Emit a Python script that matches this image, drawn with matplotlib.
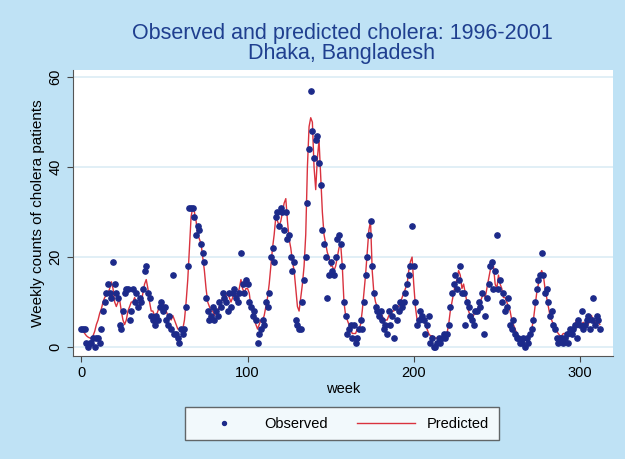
import numpy as np
import matplotlib.pyplot as plt

# weekly counts
observed = [
    4, 4, 4, 1, 0, 1, 1, 2, 0, 2,
    2, 1, 4, 8, 10, 12, 14, 12, 11, 19,
    14, 12, 11, 5, 4, 8, 12, 13, 13, 6,
    8, 13, 10, 12, 9, 11, 10, 13, 17, 18,
    12, 11, 7, 6, 5, 7, 6, 9, 10, 8,
    9, 6, 5, 7, 4, 16, 3, 3, 2, 1,
    4, 3, 4, 9, 18, 31, 31, 31, 29, 25,
    27, 26, 23, 21, 19, 11, 8, 6, 7, 9,
    6, 8, 7, 10, 9, 12, 11, 10, 8, 12,
    9, 12, 13, 11, 10, 12, 21, 14, 12, 15,
    14, 10, 9, 7, 8, 6, 1, 3, 4, 6,
    5, 10, 9, 12, 20, 22, 19, 29, 30, 27,
    31, 30, 26, 30, 24, 25, 20, 17, 19, 6,
    5, 4, 4, 10, 15, 20, 32, 44, 57, 48,
    42, 46, 47, 41, 36, 26, 23, 20, 11, 16,
    19, 17, 16, 20, 24, 25, 23, 18, 10, 7,
    3, 4, 5, 2, 5, 1, 2, 4, 6, 4,
    10, 16, 20, 25, 28, 18, 12, 9, 8, 7,
    8, 6, 4, 5, 3, 8, 5, 7, 2, 9,
    6, 8, 10, 9, 10, 12, 14, 16, 18, 27,
    18, 10, 5, 6, 8, 7, 6, 3, 5, 7,
    1, 2, 0, 0, 1, 2, 1, 2, 3, 2,
    3, 5, 9, 12, 14, 16, 13, 15, 18, 12,
    12, 5, 10, 9, 7, 6, 5, 8, 8, 10,
    9, 12, 3, 7, 11, 14, 18, 19, 13, 17,
    25, 13, 15, 10, 12, 8, 9, 11, 5, 4,
    6, 3, 2, 2, 1, 1, 2, 0, 2, 1,
    3, 4, 6, 10, 13, 15, 16, 21, 16, 12,
    13, 10, 7, 8, 5, 4, 2, 1, 2, 2,
    1, 2, 3, 1, 4, 3, 4, 5, 2, 6,
    5, 8, 4, 5, 6, 7, 4, 6, 11, 5, 7, 6, 4,
]

predicted = [
    4, 3.5, 3, 2.5, 2.2, 2, 2, 2.5, 3.5, 5,
    6, 7.5, 8.5, 10, 11, 11.5, 12, 13, 14.5, 13,
    10, 9, 10, 10.5, 8, 6, 5, 6, 8, 9,
    10, 10, 11, 10, 9, 9, 10, 12, 14, 15,
    13, 10, 8, 8, 7, 7, 8, 9, 10, 10,
    9, 8, 7, 7, 6, 7, 6, 5, 4, 4,
    3.5, 4, 6, 10, 15, 22, 29, 31, 30, 28,
    25, 24, 23, 20, 17, 13, 10, 9, 8, 8,
    7, 8, 8, 9, 10, 11, 10, 11, 12, 11,
    10, 11, 12, 11, 12, 13, 15, 13, 12, 13,
    13, 12, 9, 8, 6, 5, 4, 5, 6, 6,
    7, 9, 11, 14, 18, 22, 25, 29, 28, 27,
    28, 30, 32, 33, 28, 24, 22, 19, 17, 13,
    9, 8, 11, 14, 18, 25, 40, 49, 51, 50,
    40, 35, 42, 46, 38, 30, 25, 23, 21, 20,
    18, 18, 17, 18, 20, 22, 23, 18, 10, 7,
    6, 5, 4, 3, 3, 3, 4, 4, 5, 8,
    12, 16, 21, 26, 28, 17, 12, 10, 9, 8,
    7, 7, 6, 6, 6, 7, 7, 8, 8, 9,
    9, 9, 10, 11, 12, 13, 14, 17, 19, 20,
    14, 9, 6, 6, 7, 7, 6, 5, 4, 3,
    2.5, 2.5, 2, 2, 2, 2, 2, 2, 2.5, 3,
    3, 5, 8, 10, 12, 14, 15, 17, 16, 13,
    14, 12, 10, 8, 7, 6, 7, 8, 8, 9,
    10, 11, 12, 11, 13, 15, 17, 18, 18, 14,
    13, 16, 14, 13, 11, 11, 10, 9, 8, 6,
    5, 4, 3, 2.5, 2, 2, 1.5, 1.5, 2, 2.5,
    3, 4, 6, 9, 12, 14, 16, 17, 16, 13,
    11, 9, 7, 6, 5, 4, 3.5, 3, 2.5, 2.5,
    3, 3, 3, 3.5, 4, 4, 4.5, 5, 6, 5.5,
    4.5, 5, 5.5, 5, 6, 5, 6, 7, 6, 5, 6, 5.5, 5,
]

weeks = np.arange(len(observed))

bg = '#bfe2f5'
title_col = '#1f3f8f'

plt.rcParams['font.family'] = ['Liberation Sans', 'DejaVu Sans']

fig = plt.figure(figsize=(6.25, 4.59), dpi=100, facecolor=bg)
ax = fig.add_axes([0.117, 0.2244, 0.864, 0.623])
ax.set_facecolor('white')

for yv in [0, 20, 40, 60]:
    ax.axhline(yv, color='#dcecf5', lw=1.2, zorder=0)

ax.plot(weeks, predicted, color='#d9323e', lw=1.0, zorder=2, label='Predicted')
ax.plot(weeks, observed, 'o', color='#1c2a8a', ms=3.8, zorder=3, label='Observed')

ax.set_xlim(-5, 320)
ax.set_ylim(-2, 61.6)
ax.set_xticks([0, 100, 200, 300])
ax.set_yticks([0, 20, 40, 60])
ax.tick_params(axis='y', labelrotation=90, labelsize=10.5, color='#444444', length=4)
ax.tick_params(axis='x', labelsize=10.5, color='#444444', length=4)
for lab in ax.get_yticklabels():
    lab.set_va('center')
for s in ['top', 'right']:
    ax.spines[s].set_visible(False)
for s in ['left', 'bottom']:
    ax.spines[s].set_color('#555555')

ax.set_xlabel('week', fontsize=10.5, labelpad=1)
ax.set_ylabel('Weekly counts of cholera patients', fontsize=11, labelpad=3)

fig.text(0.547, 0.905, 'Observed and predicted cholera: 1996-2001\nDhaka, Bangladesh',
         ha='center', va='center', fontsize=15.5, color=title_col, linespacing=0.95)

h, l = ax.get_legend_handles_labels()
leg = fig.legend([h[1], h[0]], [l[1], l[0]], loc='center', bbox_to_anchor=(0.547, 0.077),
                 ncol=2, fontsize=10.5, frameon=True, fancybox=False, edgecolor='#444444',
                 handlelength=4, columnspacing=2.0, borderpad=0.65, markerscale=0.75)
leg.get_frame().set_linewidth(1.0)

fig.savefig('out.png', dpi=100, facecolor=bg)
